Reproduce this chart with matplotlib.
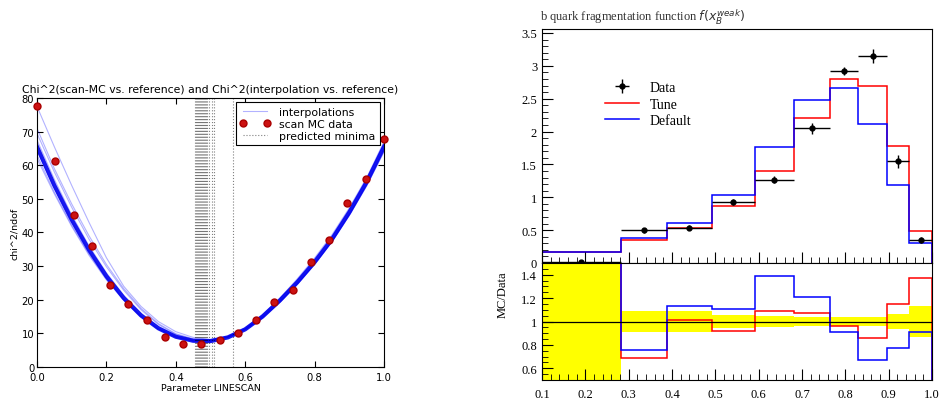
import matplotlib
matplotlib.use("Agg")
import matplotlib.pyplot as plt
import numpy as np
from matplotlib.ticker import MultipleLocator, FormatStrFormatter

# ---- left panel: chi^2 line scan ----
scan_x = [0.0, 0.0526, 0.1053, 0.1579, 0.2105, 0.2632, 0.3158, 0.3684, 0.4211, 0.4737,
          0.5263, 0.5789, 0.6316, 0.6842, 0.7368, 0.7895, 0.8421, 0.8947, 0.9474, 1.0]
scan_chi2 = [77.5, 61.4, 45.2, 36.0, 24.4, 18.6, 13.9, 8.8, 6.7, 6.7,
             8.1, 10.1, 14.1, 19.2, 22.8, 31.3, 37.8, 48.7, 56.0, 67.8]

interp_x = [0.0, 0.05, 0.1, 0.15, 0.2, 0.25, 0.3, 0.35, 0.4, 0.45, 0.5,
            0.55, 0.6, 0.65, 0.7, 0.75, 0.8, 0.85, 0.9, 0.95, 1.0]
interp_main = [65.5, 54.0, 43.8, 34.8, 27.0, 20.5, 15.3, 11.5, 9.0, 7.8, 7.7,
               8.8, 11.2, 15.0, 19.8, 25.2, 31.2, 38.0, 46.0, 55.0, 65.5]
interp_thin = [
    [77.5, 65.5, 54.0, 43.0, 32.5, 24.0, 18.0, 13.5, 10.5, 8.8, 8.2,
     9.0, 11.3, 14.8, 19.5, 24.8, 30.8, 37.5, 45.5, 54.5, 65.0],
    [69.5, 58.0, 47.5, 38.0, 29.8, 22.8, 17.0, 12.6, 9.7, 8.2, 7.9,
     8.8, 11.0, 14.6, 19.2, 24.5, 30.5, 37.2, 45.0, 53.8, 64.0],
    [63.0, 52.0, 42.2, 33.6, 26.2, 20.0, 15.0, 11.3, 8.9, 7.7, 7.7,
     8.9, 11.4, 15.3, 20.2, 25.8, 32.0, 38.8, 46.8, 55.8, 66.5],
    [67.5, 55.8, 45.2, 36.0, 28.0, 21.3, 16.0, 12.0, 9.3, 8.0, 7.8,
     8.8, 11.1, 14.8, 19.5, 24.9, 30.9, 37.6, 45.5, 54.4, 65.0],
    [64.5, 53.2, 43.2, 34.3, 26.6, 20.2, 15.1, 11.4, 9.0, 7.8, 7.7,
     8.9, 11.3, 15.1, 20.0, 25.5, 31.6, 38.4, 46.4, 55.4, 66.0],
    [71.0, 59.0, 48.5, 39.0, 30.5, 23.3, 17.4, 12.9, 9.9, 8.4, 8.1,
     9.0, 11.2, 14.7, 19.3, 24.6, 30.6, 37.3, 45.2, 54.0, 64.2],
    [62.0, 51.5, 41.8, 33.2, 25.9, 19.8, 14.9, 11.2, 8.8, 7.7, 7.8,
     9.1, 11.6, 15.6, 20.5, 26.2, 32.4, 39.3, 47.3, 56.3, 67.0],
]
minima = [0.456, 0.459, 0.462, 0.465, 0.468, 0.470, 0.473, 0.476, 0.479, 0.482,
          0.485, 0.488, 0.491, 0.497, 0.503, 0.509, 0.566]

# ---- right panel: fragmentation function ----
bin_edges = [0.1, 0.282, 0.388, 0.492, 0.591, 0.681, 0.764, 0.830, 0.896, 0.947, 1.0]
data_vals = [0.01, 0.50, 0.54, 0.93, 1.27, 2.05, 2.92, 3.15, 1.55, 0.35]
data_errs = [0.01, 0.04, 0.04, 0.05, 0.06, 0.08, 0.06, 0.10, 0.10, 0.04]
tune_vals = [0.16, 0.35, 0.54, 0.86, 1.40, 2.20, 2.80, 2.70, 1.78, 0.49]
default_vals = [0.16, 0.38, 0.61, 1.04, 1.77, 2.48, 2.66, 2.11, 1.19, 0.31]
tune_ratio = [16.0, 0.69, 1.01, 0.92, 1.09, 1.07, 0.96, 0.86, 1.15, 1.37]
default_ratio = [16.0, 0.76, 1.13, 1.11, 1.39, 1.21, 0.91, 0.67, 0.77, 0.91]
band_halfwidth = [10.0, 0.086, 0.086, 0.055, 0.05, 0.04, 0.035, 0.035, 0.065, 0.135]

fig = plt.figure(figsize=(9.41, 4.02), dpi=100)

# left
ax = fig.add_axes([0.0393, 0.0846, 0.3688, 0.6692])
for i, curve in enumerate(interp_thin):
    ax.plot(interp_x, curve, color="blue", alpha=0.3, lw=0.8,
            label="interpolations" if i == 0 else None)
ax.plot(interp_x, interp_main, color="#0000ee", alpha=0.9, lw=3.0)
ax.plot(scan_x, scan_chi2, "o", color="#cc1111", ms=5, mec="#aa0000",
        label="scan MC data", clip_on=False, zorder=5)
for i, m in enumerate(minima):
    ax.axvline(m, color="black", ls=":", lw=0.8, alpha=0.5,
               label="predicted minima" if i == 0 else None)
ax.set_xlim(0, 1)
ax.set_ylim(0, 80)
ax.set_title("Chi^2(scan-MC vs. reference) and Chi^2(interpolation vs. reference)",
             fontsize=7.8, pad=4)
ax.set_xlabel("Parameter LINESCAN", fontsize=6.8, labelpad=1)
ax.set_ylabel("chi^2/ndof", fontsize=6.8, labelpad=2)
ax.tick_params(direction="in", top=True, right=True, labelsize=7.2, length=4, pad=2)
ax.tick_params(axis="x", pad=3.5)
ax.xaxis.set_major_locator(MultipleLocator(0.2))
ax.yaxis.set_major_locator(MultipleLocator(10))
leg = ax.legend(loc="upper right", fontsize=7.8, numpoints=2, fancybox=False,
                framealpha=1, edgecolor="black", borderpad=0.4, handlelength=2.8,
                labelspacing=0.2, borderaxespad=0.4)
leg.get_frame().set_linewidth(0.8)

# right, main
serif = "Liberation Serif"
axm = fig.add_axes([0.576, 0.3433, 0.4145, 0.582])
axr = fig.add_axes([0.576, 0.0522, 0.4145, 0.2911])

centers = [(bin_edges[i] + bin_edges[i + 1]) / 2 for i in range(len(data_vals))]
xerr = [(bin_edges[i + 1] - bin_edges[i]) / 2 for i in range(len(data_vals))]

axm.stairs(tune_vals, bin_edges, color="red", lw=1.1, label="Tune")
axm.stairs(default_vals, bin_edges, color="blue", lw=1.1, label="Default")
axm.errorbar(centers, data_vals, xerr=xerr, yerr=data_errs, fmt="o", color="black",
             ms=3.5, lw=1.0, capsize=0, label="Data", clip_on=False, zorder=5)
axm.set_xlim(0.1, 1.0)
axm.set_ylim(0, 3.56)
axm.yaxis.set_major_locator(MultipleLocator(0.5))
axm.yaxis.set_minor_locator(MultipleLocator(0.1))
axm.xaxis.set_major_locator(MultipleLocator(0.1))
axm.xaxis.set_minor_locator(MultipleLocator(0.02))
axm.yaxis.set_major_formatter(plt.FuncFormatter(lambda v, p: f"{v:g}"))
axm.tick_params(which="both", direction="in", labelbottom=False)
axm.tick_params(which="major", length=8)
axm.tick_params(which="minor", length=4)
for lab in axm.get_yticklabels():
    lab.set_fontfamily(serif)
    lab.set_fontsize(9)
axm.set_title(r"b quark fragmentation function $f(x_B^{weak})$", loc="left",
              fontsize=9, fontfamily=serif, color="#333333", pad=6, x=-0.005)
handles, labels = axm.get_legend_handles_labels()
order = [labels.index("Data"), labels.index("Tune"), labels.index("Default")]
axm.legend([handles[i] for i in order], [labels[i] for i in order],
           loc="upper left", bbox_to_anchor=(0.13, 0.83), frameon=False,
           prop={"family": serif, "size": 10}, handlelength=2.4, labelspacing=0.25)

# right, ratio
band_lo = [1 - b for b in band_halfwidth]
band_hi = [1 + b for b in band_halfwidth]
axr.stairs(band_hi, bin_edges, baseline=band_lo, fill=True, color="yellow", lw=0)
axr.stairs(tune_ratio, bin_edges, color="red", lw=1.1)
axr.stairs(default_ratio, bin_edges, color="blue", lw=1.1)
axr.axhline(1.0, color="black", lw=0.9)
axr.set_xlim(0.1, 1.0)
axr.set_ylim(0.5, 1.5)
axr.yaxis.set_major_locator(MultipleLocator(0.2))
axr.yaxis.set_minor_locator(MultipleLocator(0.05))
axr.xaxis.set_major_locator(MultipleLocator(0.1))
axr.xaxis.set_minor_locator(MultipleLocator(0.02))
axr.yaxis.set_major_formatter(plt.FuncFormatter(lambda v, p: f"{v:g}"))
axr.xaxis.set_major_formatter(FormatStrFormatter("%.1f"))
axr.tick_params(which="both", direction="in")
axr.tick_params(which="major", length=8)
axr.tick_params(which="minor", length=4)
axr.tick_params(axis="x", pad=6)
for lab in axr.get_yticklabels() + axr.get_xticklabels():
    lab.set_fontfamily(serif)
    lab.set_fontsize(9)
axr.set_ylabel("MC/Data", fontfamily=serif, fontsize=9, labelpad=4)
axr.yaxis.set_label_coords(-0.085, 0.74)

fig.savefig("out.png", dpi=100)
